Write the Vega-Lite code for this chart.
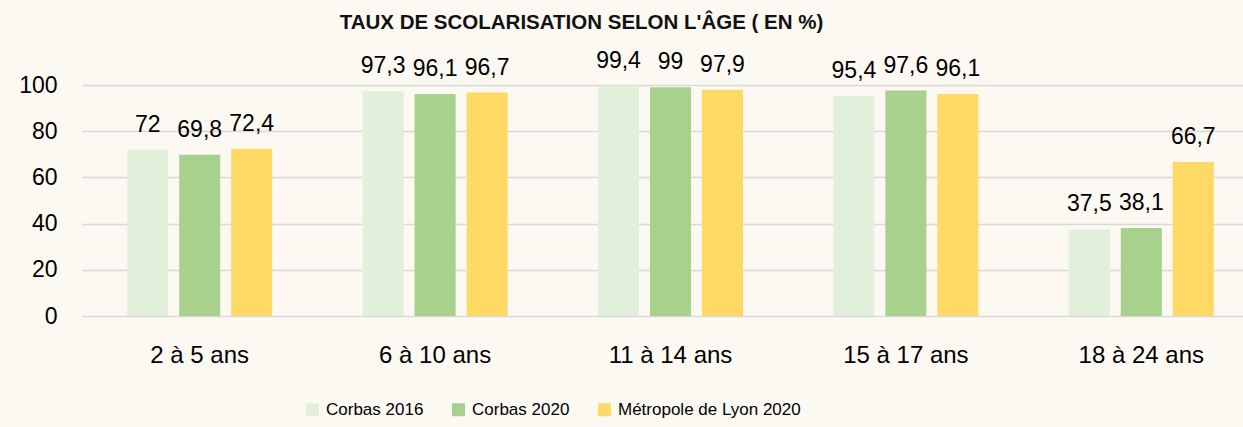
{
  "$schema": "https://vega.github.io/schema/vega-lite/v6.json",
  "width": 1161,
  "height": 231,
  "autosize": {"type": "none"},
  "padding": {"left": 82, "top": 85, "right": 0, "bottom": 111},
  "background": "#fcf9f3",
  "title": {
    "text": "TAUX DE SCOLARISATION SELON L'ÂGE ( EN %)",
    "font": "Liberation Sans",
    "fontSize": 20.5,
    "fontWeight": "bold",
    "color": "#111111",
    "frame": "group",
    "anchor": "middle",
    "dx": -81,
    "offset": 17
  },
  "config": {
    "view": {"stroke": null},
    "locale": {"number": {"decimal": ",", "thousands": " ", "grouping": [3], "currency": ["", " €"]}},
    "axis": {"labelFont": "Liberation Sans", "labelColor": "#000000"}
  },
  "data": {
    "values": [
      {"age": "2 à 5 ans", "serie": "Corbas 2016", "value": 72},
      {"age": "2 à 5 ans", "serie": "Corbas 2020", "value": 69.8},
      {"age": "2 à 5 ans", "serie": "Métropole de Lyon 2020", "value": 72.4},
      {"age": "6 à 10 ans", "serie": "Corbas 2016", "value": 97.3},
      {"age": "6 à 10 ans", "serie": "Corbas 2020", "value": 96.1},
      {"age": "6 à 10 ans", "serie": "Métropole de Lyon 2020", "value": 96.7},
      {"age": "11 à 14 ans", "serie": "Corbas 2016", "value": 99.4},
      {"age": "11 à 14 ans", "serie": "Corbas 2020", "value": 99},
      {"age": "11 à 14 ans", "serie": "Métropole de Lyon 2020", "value": 97.9},
      {"age": "15 à 17 ans", "serie": "Corbas 2016", "value": 95.4},
      {"age": "15 à 17 ans", "serie": "Corbas 2020", "value": 97.6},
      {"age": "15 à 17 ans", "serie": "Métropole de Lyon 2020", "value": 96.1},
      {"age": "18 à 24 ans", "serie": "Corbas 2016", "value": 37.5},
      {"age": "18 à 24 ans", "serie": "Corbas 2020", "value": 38.1},
      {"age": "18 à 24 ans", "serie": "Métropole de Lyon 2020", "value": 66.7}
    ]
  },
  "encoding": {
    "x": {
      "field": "age",
      "type": "nominal",
      "sort": ["2 à 5 ans", "6 à 10 ans", "11 à 14 ans", "15 à 17 ans", "18 à 24 ans"],
      "scale": {"range": [0, 1177], "paddingInner": 0.3376, "paddingOuter": 0.1688},
      "axis": {
        "title": null,
        "labelAngle": 0,
        "labelFontSize": 24,
        "labelPadding": 46,
        "labelBaseline": "alphabetic",
        "ticks": false,
        "tickSize": 0,
        "domain": false,
        "grid": false
      }
    },
    "xOffset": {
      "field": "serie",
      "type": "nominal",
      "sort": ["Corbas 2016", "Corbas 2020", "Métropole de Lyon 2020"],
      "scale": {"paddingInner": 0.21, "paddingOuter": 0.105}
    },
    "y": {
      "field": "value",
      "type": "quantitative",
      "scale": {"domain": [0, 100]},
      "axis": {
        "title": null,
        "values": [0, 20, 40, 60, 80, 100],
        "labelFontSize": 23,
        "labelPadding": 25,
        "ticks": false,
        "tickSize": 0,
        "domain": false,
        "grid": true,
        "gridColor": "#d9d9d9",
        "gridWidth": 1.5
      }
    }
  },
  "layer": [
    {
      "mark": {"type": "bar"},
      "encoding": {
        "color": {
          "field": "serie",
          "type": "nominal",
          "scale": {
            "domain": ["Corbas 2016", "Corbas 2020", "Métropole de Lyon 2020"],
            "range": ["#e2efda", "#a9d18e", "#ffd966"]
          },
          "legend": {
            "title": null,
            "orient": "none",
            "legendX": 222,
            "legendY": 316,
            "direction": "horizontal",
            "symbolType": "square",
            "symbolSize": 169,
            "symbolStrokeWidth": 0,
            "labelFont": "Liberation Sans",
            "labelFontSize": 17,
            "labelLimit": 400,
            "labelColor": "#000000",
            "labelOffset": 5,
            "columnPadding": 26
          }
        }
      }
    },
    {
      "mark": {
        "type": "text",
        "baseline": "alphabetic",
        "dy": -18,
        "font": "Liberation Sans",
        "fontSize": 23,
        "color": "#000000"
      },
      "encoding": {
        "text": {"field": "value", "type": "quantitative", "format": ".1~f"}
      }
    }
  ]
}
